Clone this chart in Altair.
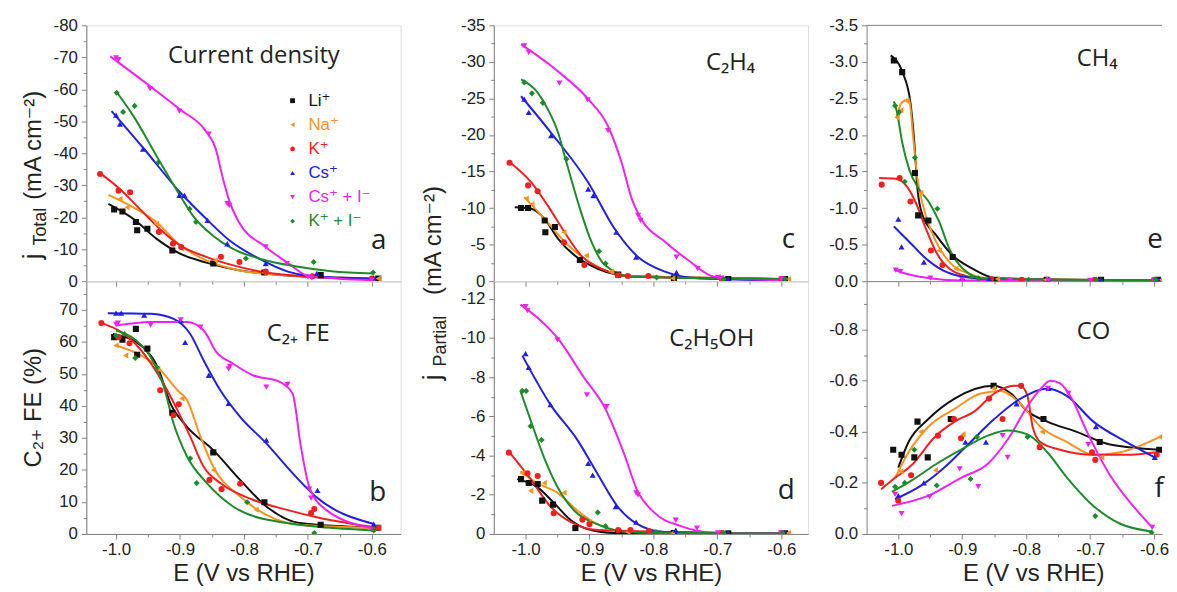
import altair as alt
import pandas as pd

NAMES = ["Li⁺", "Na⁺", "K⁺", "Cs⁺", "Cs⁺ + I⁻", "K⁺ + I⁻"]
KEYS = ["Li", "Na", "K", "Cs", "CsI", "KI"]
COLORS = ["#111111", "#f7931e", "#ee2020", "#2020dd", "#ee22ee", "#1e8a2a"]
SHAPES = ["square", "triangle-left", "circle", "triangle-up", "triangle-down", "diamond"]

# ---------- panel a: total current density (mA cm-2) ----------
A_PTS = {
    "Li": [(-1.003, -22.4), (-0.99, -21.8), (-0.969, -18.5), (-0.967, -15.9), (-0.951, -16.4), (-0.912, -9.6), (-0.848, -5.5), (-0.768, -2.7), (-0.68, -1.9), (-0.59, -0.8)],
    "Na": [(-0.994, -25.7), (-0.983, -23.1), (-0.937, -17.9), (-0.898, -10.2), (-0.845, -6.5), (-0.769, -2.7), (-0.59, -0.8)],
    "K": [(-1.025, -33.5), (-0.996, -28.3), (-0.978, -27.8), (-0.933, -15.4), (-0.911, -11.7), (-0.898, -10.7), (-0.836, -7.6), (-0.807, -6.0), (-0.766, -3.0), (-0.693, -1.5), (-0.6, -0.8)],
    "Cs": [(-1.0, -51.9), (-0.994, -49.1), (-0.958, -41.3), (-0.901, -26.8), (-0.893, -26.8), (-0.857, -19.0), (-0.826, -11.7), (-0.766, -5.5), (-0.686, -2.4), (-0.597, -1.0)],
    "CsI": [(-1.0, -69.8), (-0.996, -69.3), (-0.947, -60.2), (-0.901, -53.2), (-0.855, -46.0), (-0.826, -24.2), (-0.823, -23.7), (-0.766, -10.7), (-0.733, -5.5), (-0.70, -1.3), (-0.694, -1.0), (-0.6, -0.3)],
    "KI": [(-0.999, -58.9), (-0.989, -52.9), (-0.971, -54.8), (-0.934, -37.1), (-0.885, -22.6), (-0.875, -18.5), (-0.797, -7.1), (-0.691, -6.0), (-0.598, -2.7)],
}
A_FIT = {
    "Li": [(-1.012, -24.2), (-0.973, -19.5), (-0.937, -13.3), (-0.90, -8.6), (-0.859, -5.8), (-0.808, -3.4), (-0.741, -1.9), (-0.59, -0.6)],
    "Na": [(-1.012, -27.0), (-0.973, -23.1), (-0.937, -18.5), (-0.90, -11.2), (-0.859, -6.5), (-0.808, -3.4), (-0.741, -1.9), (-0.59, -0.8)],
    "K": [(-1.025, -33.8), (-0.994, -28.8), (-0.963, -22.6), (-0.932, -16.4), (-0.90, -11.2), (-0.859, -7.6), (-0.818, -5.0), (-0.766, -2.7), (-0.689, -1.3), (-0.6, -0.6)],
    "Cs": [(-1.007, -53.2), (-0.958, -41.8), (-0.90, -27.8), (-0.859, -19.5), (-0.823, -12.8), (-0.777, -7.1), (-0.73, -2.9), (-0.70, -1.7), (-0.6, -0.8)],
    "CsI": [(-1.009, -70.3), (-0.947, -61.0), (-0.90, -53.7), (-0.86, -47.0), (-0.844, -41.3), (-0.834, -33.0), (-0.823, -25.2), (-0.808, -18.5), (-0.766, -10.7), (-0.73, -5.5), (-0.70, -1.7), (-0.6, -0.3)],
    "KI": [(-1.0, -59.4), (-0.973, -51.7), (-0.934, -38.2), (-0.90, -26.8), (-0.88, -20.5), (-0.849, -14.3), (-0.818, -10.2), (-0.777, -7.1), (-0.715, -4.5), (-0.663, -3.1), (-0.598, -2.4)],
}

# ---------- panel b: C2+ faradaic efficiency (%) ----------
B_PTS = {
    "Li": [(-1.003, 61.5), (-0.99, 60.7), (-0.969, 64.1), (-0.967, 56.0), (-0.951, 57.9), (-0.912, 37.9), (-0.848, 25.5), (-0.768, 9.9), (-0.68, 2.9), (-0.59, 1.9)],
    "Na": [(-1.0, 58.9), (-0.985, 55.8), (-0.935, 51.6), (-0.897, 42.3), (-0.848, 20.0), (-0.781, 7.6), (-0.59, 1.9)],
    "K": [(-1.023, 65.9), (-0.996, 61.5), (-0.979, 59.6), (-0.931, 44.9), (-0.91, 37.1), (-0.902, 40.5), (-0.854, 16.9), (-0.835, 14.0), (-0.806, 15.7), (-0.695, 6.5), (-0.69, 7.8), (-0.59, 1.9)],
    "Cs": [(-1.0, 69.0), (-0.992, 69.0), (-0.956, 68.4), (-0.899, 66.7), (-0.892, 59.9), (-0.855, 49.6), (-0.824, 40.8), (-0.765, 29.3), (-0.685, 13.6), (-0.597, 3.1)],
    "CsI": [(-1.0, 65.5), (-0.997, 65.9), (-0.946, 65.3), (-0.899, 66.9), (-0.868, 64.6), (-0.824, 51.6), (-0.822, 52.4), (-0.765, 45.9), (-0.732, 46.7), (-0.698, 14.0), (-0.695, 11.2), (-0.6, 1.3)],
    "KI": [(-1.0, 62.0), (-0.987, 62.5), (-0.97, 55.0), (-0.936, 52.0), (-0.884, 23.6), (-0.874, 15.9), (-0.795, 9.9), (-0.69, 0.3), (-0.597, 1.1)],
}
B_FIT = {
    "Li": [(-1.005, 62.5), (-0.961, 58.9), (-0.935, 52.2), (-0.915, 40.8), (-0.889, 33.5), (-0.848, 26.2), (-0.806, 16.9), (-0.765, 8.6), (-0.713, 3.4), (-0.59, 1.9)],
    "Na": [(-1.0, 58.9), (-0.961, 55.8), (-0.935, 52.2), (-0.904, 44.9), (-0.889, 41.8), (-0.868, 30.4), (-0.848, 21.0), (-0.806, 11.7), (-0.765, 6.0), (-0.713, 2.9), (-0.59, 1.9)],
    "K": [(-1.026, 66.2), (-0.972, 59.9), (-0.935, 50.1), (-0.904, 38.7), (-0.884, 30.4), (-0.863, 21.0), (-0.837, 15.9), (-0.786, 10.7), (-0.734, 7.6), (-0.688, 5.3), (-0.59, 1.9)],
    "Cs": [(-1.013, 69.0), (-0.946, 68.8), (-0.91, 67.2), (-0.884, 62.5), (-0.863, 54.2), (-0.837, 44.9), (-0.806, 36.6), (-0.765, 28.3), (-0.724, 19.0), (-0.688, 11.7), (-0.597, 3.1)],
    "CsI": [(-1.0, 65.1), (-0.946, 66.2), (-0.889, 66.2), (-0.863, 63.6), (-0.843, 56.8), (-0.817, 53.2), (-0.786, 49.6), (-0.744, 47.5), (-0.724, 43.9), (-0.711, 27.3), (-0.698, 14.8), (-0.672, 7.6), (-0.6, 1.9)],
    "KI": [(-1.0, 63.6), (-0.972, 61.0), (-0.946, 55.3), (-0.925, 45.9), (-0.91, 34.5), (-0.889, 24.2), (-0.858, 15.9), (-0.817, 8.6), (-0.765, 4.5), (-0.597, 1.1)],
}

# ---------- panel c: C2H4 partial current density ----------
C_PTS = {
    "Li": [(-1.007, -10.0), (-0.996, -10.0), (-0.97, -8.3), (-0.969, -6.7), (-0.954, -7.4), (-0.915, -2.9), (-0.855, -0.9), (-0.768, -0.4), (-0.683, -0.3), (-0.594, -0.3)],
    "Na": [(-0.999, -11.3), (-0.99, -10.5), (-0.94, -6.7), (-0.905, -3.5), (-0.866, -1.3), (-0.77, -0.4), (-0.589, -0.3)],
    "K": [(-1.025, -16.2), (-0.996, -13.1), (-0.981, -12.3), (-0.94, -5.3), (-0.908, -2.2), (-0.855, -0.8), (-0.84, -0.7), (-0.808, -0.7), (-0.693, -0.3), (-0.6, -0.3)],
    "Cs": [(-1.002, -24.9), (-0.995, -23.1), (-0.96, -19.9), (-0.902, -12.6), (-0.894, -11.7), (-0.858, -6.7), (-0.827, -3.3), (-0.764, -1.2), (-0.683, -0.3), (-0.594, -0.3)],
    "CsI": [(-1.002, -32.2), (-0.995, -31.3), (-0.947, -27.1), (-0.903, -24.8), (-0.871, -20.6), (-0.824, -9.0), (-0.82, -8.3), (-0.764, -3.3), (-0.731, -1.7), (-0.699, -0.5), (-0.694, -0.4), (-0.6, -0.3)],
    "KI": [(-1.002, -27.2), (-0.99, -25.7), (-0.973, -24.4), (-0.936, -16.7), (-0.885, -4.1), (-0.875, -2.4), (-0.795, -0.5), (-0.69, -0.3), (-0.594, -0.3)],
}
C_FIT = {
    "Li": [(-1.017, -10.1), (-0.991, -9.9), (-0.97, -8.5), (-0.949, -5.8), (-0.923, -3.5), (-0.887, -1.7), (-0.834, -0.7), (-0.594, -0.3)],
    "Na": [(-1.002, -11.5), (-0.97, -8.5), (-0.939, -5.4), (-0.908, -3.1), (-0.876, -1.5), (-0.834, -0.7), (-0.589, -0.3)],
    "K": [(-1.025, -16.3), (-0.991, -13.5), (-0.965, -10.3), (-0.939, -6.7), (-0.913, -3.5), (-0.876, -1.5), (-0.834, -0.6), (-0.594, -0.3)],
    "Cs": [(-1.007, -25.3), (-0.96, -20.3), (-0.902, -13.5), (-0.861, -7.2), (-0.824, -3.3), (-0.782, -1.3), (-0.73, -0.4), (-0.594, -0.1)],
    "CsI": [(-1.007, -32.4), (-0.949, -28.7), (-0.902, -24.9), (-0.871, -21.2), (-0.85, -16.3), (-0.834, -11.3), (-0.819, -8.5), (-0.782, -5.4), (-0.746, -2.9), (-0.704, -0.6), (-0.6, -0.1)],
    "KI": [(-1.007, -27.6), (-0.981, -25.8), (-0.965, -23.5), (-0.949, -20.3), (-0.939, -17.2), (-0.918, -10.8), (-0.897, -5.4), (-0.876, -2.2), (-0.834, -0.6), (-0.594, -0.3)],
}

# ---------- panel d: C2H5OH partial current density ----------
D_PTS = {
    "Li": [(-1.007, -2.8), (-0.995, -2.6), (-0.981, -2.55), (-0.974, -1.7), (-0.957, -1.5), (-0.922, -0.3), (-0.855, -0.1), (-0.768, -0.05), (-0.683, -0.03), (-0.594, -0.03)],
    "Na": [(-1.005, -3.1), (-0.992, -2.2), (-0.971, -2.6), (-0.94, -2.1), (-0.901, -0.6), (-0.84, -0.1), (-0.77, -0.05), (-0.589, -0.05)],
    "K": [(-1.026, -4.15), (-0.997, -3.1), (-0.981, -2.96), (-0.956, -1.06), (-0.911, -0.73), (-0.9, -0.5), (-0.855, -0.2), (-0.836, -0.2), (-0.807, -0.15), (-0.693, -0.05), (-0.6, -0.05)],
    "Cs": [(-1.0, -9.2), (-0.995, -8.5), (-0.961, -6.6), (-0.902, -3.6), (-0.895, -3.0), (-0.859, -1.4), (-0.827, -0.6), (-0.765, -0.2), (-0.683, -0.05), (-0.594, -0.05)],
    "CsI": [(-1.0, -11.6), (-0.997, -11.4), (-0.95, -9.9), (-0.904, -7.1), (-0.873, -6.5), (-0.827, -2.1), (-0.824, -2.0), (-0.765, -0.7), (-0.732, -0.3), (-0.699, -0.05), (-0.6, -0.05)],
    "KI": [(-1.005, -7.3), (-0.999, -7.3), (-0.992, -5.5), (-0.975, -4.8), (-0.887, -1.1), (-0.875, -0.4), (-0.796, -0.1), (-0.69, -0.05), (-0.598, -0.05)],
}
D_FIT = {
    "Li": [(-1.013, -2.8), (-0.982, -2.4), (-0.956, -1.6), (-0.929, -0.7), (-0.903, -0.25), (-0.861, -0.05), (-0.594, -0.02)],
    "Na": [(-1.008, -3.2), (-0.982, -2.6), (-0.95, -2.1), (-0.919, -1.2), (-0.888, -0.5), (-0.835, -0.1), (-0.589, -0.02)],
    "K": [(-1.026, -4.2), (-0.992, -2.8), (-0.961, -1.4), (-0.929, -0.6), (-0.888, -0.2), (-0.6, -0.02)],
    "Cs": [(-1.005, -9.1), (-0.961, -6.6), (-0.919, -4.8), (-0.888, -3.1), (-0.856, -1.4), (-0.825, -0.5), (-0.783, -0.1), (-0.594, -0.02)],
    "CsI": [(-1.008, -11.7), (-0.95, -10.0), (-0.909, -8.0), (-0.877, -6.5), (-0.846, -4.1), (-0.825, -2.2), (-0.799, -1.1), (-0.757, -0.4), (-0.70, -0.05), (-0.6, -0.02)],
    "KI": [(-1.008, -7.3), (-0.992, -5.8), (-0.971, -3.9), (-0.95, -2.4), (-0.924, -1.2), (-0.888, -0.5), (-0.835, -0.1), (-0.594, -0.02)],
}

# ---------- panel e: CH4 partial current density ----------
E_PTS = {
    "Li": [(-1.007, -3.02), (-0.994, -2.86), (-0.974, -1.48), (-0.969, -0.9), (-0.953, -0.83), (-0.915, -0.33), (-0.848, -0.02), (-0.768, -0.02), (-0.683, -0.02), (-0.594, -0.02)],
    "Na": [(-1.002, -2.24), (-0.996, -2.34), (-0.986, -2.46), (-0.965, -1.21), (-0.936, -0.42), (-0.91, -0.17), (-0.845, -0.03), (-0.77, -0.02), (-0.589, -0.02)],
    "K": [(-1.026, -1.32), (-0.998, -1.41), (-0.981, -1.09), (-0.949, -0.42), (-0.931, -0.22), (-0.855, -0.03), (-0.807, -0.02), (-0.693, -0.02), (-0.6, -0.02)],
    "Cs": [(-1.0, -0.85), (-0.995, -0.47), (-0.96, -0.26), (-0.9, -0.05), (-0.858, -0.03), (-0.765, -0.02), (-0.683, -0.02), (-0.594, -0.02)],
    "CsI": [(-1.004, -0.15), (-0.997, -0.13), (-0.95, -0.04), (-0.9, -0.02), (-0.825, -0.01), (-0.765, -0.01), (-0.7, -0.01), (-0.6, -0.01)],
    "KI": [(-1.005, -2.40), (-0.999, -2.31), (-0.99, -1.36), (-0.974, -1.69), (-0.939, -0.99), (-0.885, -0.06), (-0.875, -0.04), (-0.796, -0.02), (-0.69, -0.02), (-0.598, -0.02)],
}
E_FIT = {
    "Li": [(-1.012, -3.09), (-0.994, -2.87), (-0.981, -2.44), (-0.975, -1.9), (-0.97, -1.26), (-0.962, -0.9), (-0.941, -0.63), (-0.915, -0.35), (-0.884, -0.17), (-0.847, -0.04), (-0.594, -0.01)],
    "Na": [(-1.003, -2.24), (-0.995, -2.44), (-0.983, -2.49), (-0.977, -1.99), (-0.97, -1.4), (-0.96, -0.99), (-0.941, -0.54), (-0.92, -0.26), (-0.889, -0.1), (-0.847, -0.03), (-0.589, -0.01)],
    "K": [(-1.03, -1.41), (-1.004, -1.40), (-0.988, -1.31), (-0.973, -1.08), (-0.957, -0.72), (-0.941, -0.4), (-0.92, -0.17), (-0.889, -0.06), (-0.847, -0.01), (-0.6, -0.01)],
    "Cs": [(-1.007, -0.75), (-0.983, -0.54), (-0.957, -0.31), (-0.931, -0.15), (-0.899, -0.06), (-0.847, -0.02), (-0.594, -0.01)],
    "CsI": [(-1.007, -0.16), (-0.983, -0.09), (-0.952, -0.04), (-0.899, -0.01), (-0.6, -0.01)],
    "KI": [(-1.007, -2.46), (-1.002, -2.31), (-0.994, -1.9), (-0.983, -1.53), (-0.968, -1.26), (-0.952, -1.08), (-0.936, -0.81), (-0.92, -0.44), (-0.899, -0.17), (-0.868, -0.04), (-0.598, -0.01)],
}

# ---------- panel f: CO partial current density ----------
F_PTS = {
    "Li": [(-1.008, -0.33), (-0.995, -0.31), (-0.975, -0.30), (-0.97, -0.44), (-0.954, -0.30), (-0.918, -0.45), (-0.851, -0.58), (-0.773, -0.45), (-0.685, -0.36), (-0.592, -0.33)],
    "Na": [(-0.996, -0.245), (-0.965, -0.40), (-0.942, -0.25), (-0.899, -0.39), (-0.851, -0.57), (-0.775, -0.40), (-0.682, -0.30), (-0.591, -0.38)],
    "K": [(-1.027, -0.20), (-1.0, -0.13), (-0.98, -0.23), (-0.938, -0.385), (-0.913, -0.45), (-0.902, -0.375), (-0.858, -0.53), (-0.837, -0.45), (-0.808, -0.58), (-0.779, -0.34), (-0.697, -0.32), (-0.692, -0.29), (-0.596, -0.31)],
    "Cs": [(-1.0, -0.15), (-0.96, -0.2), (-0.895, -0.36), (-0.863, -0.36), (-0.815, -0.51), (-0.765, -0.57), (-0.691, -0.42), (-0.599, -0.30)],
    "CsI": [(-1.005, -0.155), (-0.995, -0.08), (-0.951, -0.145), (-0.904, -0.255), (-0.875, -0.185), (-0.837, -0.385), (-0.829, -0.30), (-0.766, -0.57), (-0.734, -0.55), (-0.703, -0.35), (-0.603, -0.026)],
    "KI": [(-1.005, -0.185), (-0.99, -0.20), (-0.975, -0.33), (-0.94, -0.19), (-0.887, -0.215), (-0.877, -0.38), (-0.798, -0.38), (-0.692, -0.07), (-0.604, -0.006)],
}
F_FIT = {
    "Li": [(-1.0, -0.26), (-0.984, -0.36), (-0.953, -0.45), (-0.912, -0.53), (-0.851, -0.58), (-0.824, -0.55), (-0.798, -0.48), (-0.767, -0.44), (-0.721, -0.40), (-0.669, -0.35), (-0.591, -0.33)],
    "Na": [(-1.005, -0.22), (-0.984, -0.32), (-0.953, -0.42), (-0.912, -0.49), (-0.871, -0.55), (-0.84, -0.56), (-0.809, -0.51), (-0.778, -0.42), (-0.736, -0.36), (-0.695, -0.31), (-0.653, -0.32), (-0.591, -0.38)],
    "K": [(-1.027, -0.175), (-1.005, -0.22), (-0.979, -0.27), (-0.943, -0.38), (-0.912, -0.44), (-0.881, -0.48), (-0.85, -0.55), (-0.819, -0.58), (-0.809, -0.58), (-0.798, -0.54), (-0.79, -0.42), (-0.778, -0.36), (-0.747, -0.33), (-0.695, -0.31), (-0.643, -0.31), (-0.596, -0.32)],
    "Cs": [(-1.005, -0.136), (-0.964, -0.19), (-0.928, -0.26), (-0.891, -0.35), (-0.85, -0.45), (-0.809, -0.53), (-0.767, -0.57), (-0.736, -0.54), (-0.695, -0.44), (-0.643, -0.36), (-0.599, -0.30)],
    "CsI": [(-1.01, -0.11), (-0.953, -0.15), (-0.902, -0.22), (-0.86, -0.275), (-0.829, -0.37), (-0.798, -0.50), (-0.778, -0.567), (-0.762, -0.60), (-0.747, -0.59), (-0.731, -0.54), (-0.705, -0.40), (-0.669, -0.23), (-0.633, -0.11), (-0.603, -0.026)],
    "KI": [(-1.01, -0.165), (-0.979, -0.21), (-0.943, -0.27), (-0.902, -0.33), (-0.86, -0.385), (-0.829, -0.405), (-0.798, -0.39), (-0.767, -0.32), (-0.736, -0.22), (-0.695, -0.11), (-0.653, -0.04), (-0.604, -0.01)],
}

# axis ticks / labels
X_TICKS = [-1.0, -0.95, -0.9, -0.85, -0.8, -0.75, -0.7, -0.65, -0.6]
YA = [0, -5, -10, -15, -20, -25, -30, -35, -40, -45, -50, -55, -60, -65, -70, -75, -80]
YB = [0, 5, 10, 15, 20, 25, 30, 35, 40, 45, 50, 55, 60, 65, 70, 75]
YC = [0, -2.5, -5, -7.5, -10, -12.5, -15, -17.5, -20, -22.5, -25, -27.5, -30, -32.5, -35]
YD = [0, -1, -2, -3, -4, -5, -6, -7, -8, -9, -10, -11, -12]
YE = [0, -0.25, -0.5, -0.75, -1.0, -1.25, -1.5, -1.75, -2.0, -2.25, -2.5, -2.75, -3.0, -3.25, -3.5]
YF = [0, -0.1, -0.2, -0.3, -0.4, -0.5, -0.6, -0.7, -0.8, -0.9]

AX = "Liberation Sans, Arial, DejaVu Sans, sans-serif"
LB = "Open Sans, DejaVu Sans, sans-serif"
GRAY = "#808080"
INK = "#222222"

W1, W3 = 317, 298
HT, HB = 258, 255
XD1 = [-1.0465, -0.555]
XD2 = [-1.0496, -0.5581]
XD3 = [-1.0496, -1.0496 + W3 / 645.0]


def to_df(d):
    rows = []
    for k, pts in d.items():
        for e, v in pts:
            rows.append({"s": NAMES[KEYS.index(k)], "E": e, "v": v})
    return pd.DataFrame(rows)


def is_major(major):
    return f"abs(round(datum.value/{major})*{major}-datum.value) < 1e-6"


def lab_expr(major, dec):
    return (f"{is_major(major)} ? ((datum.value < -1e-9 ? '-' : '') + "
            f"format(abs(datum.value), '.{dec}f')) : ''")


def tick_size(major):
    return {"condition": {"test": is_major(major), "value": 5}, "value": 3}


def x_axis(labels, title_x=None):
    kw = dict(values=X_TICKS, grid=False, domainColor=GRAY, tickColor=GRAY,
              tickSize=tick_size(0.1), labels=labels)
    if labels:
        kw.update(labelExpr=lab_expr(0.1, 1), labelFont=AX, labelFontSize=17,
                  labelColor=INK, labelPadding=3, title="E (V vs RHE)",
                  titleFont=AX, titleFontSize=24, titleFontWeight="normal",
                  titleColor=INK, titlePadding=4)
        if title_x is not None:
            kw.update(titleX=title_x)
    else:
        kw.update(title=None)
    return alt.Axis(**kw)


def y_axis(vals, major, dec):
    return alt.Axis(values=vals, grid=False, title=None, domainColor=GRAY,
                    tickColor=GRAY, tickSize=tick_size(major),
                    labelExpr=lab_expr(major, dec), labelFont=AX,
                    labelFontSize=17, labelColor=INK, labelPadding=4)


def txt(text, x, y, size, font=LB, color=INK, align="left", angle=0,
        baseline="alphabetic"):
    kw = dict(align=align, baseline=baseline, font=font, fontSize=size, color=color)
    if angle:
        kw["angle"] = angle
    return alt.Chart(pd.DataFrame({"t": [text]})).mark_text(**kw).encode(
        x=alt.value(x), y=alt.value(y), text="t:N")


def spacer(x1, y1, x2, y2):
    return alt.Chart(pd.DataFrame({"t": [0]})).mark_rule(strokeOpacity=0).encode(
        x=alt.value(x1), x2=alt.value(x2), y=alt.value(y1), y2=alt.value(y2))


def panel(pts, fit, xdom, w, h, ydom, yvals, major, dec, xlabels, extras,
          stroke=True, title_x=None):
    x = alt.X("E:Q", scale=alt.Scale(domain=xdom, nice=False, zero=False),
              axis=x_axis(xlabels, title_x))
    y = alt.Y("v:Q", scale=alt.Scale(domain=ydom, nice=False, zero=False),
              axis=y_axis(yvals, major, dec))
    color = alt.Color("s:N", scale=alt.Scale(domain=NAMES, range=COLORS), legend=None)
    shape = alt.Shape("s:N", scale=alt.Scale(domain=NAMES, range=SHAPES), legend=None)
    lines = alt.Chart(to_df(fit)).mark_line(
        interpolate="monotone", strokeWidth=2, clip=True).encode(
        x=x, y=y, color=color, detail="s:N")
    dots = alt.Chart(to_df(pts)).mark_point(
        filled=True, size=38, opacity=1, clip=True).encode(
        x=x, y=y, color=color, shape=shape)
    ch = alt.layer(lines, dots, *extras).properties(width=w, height=h)
    if not stroke:
        ch = ch.properties(view=alt.ViewBackground(strokeOpacity=0))
    return ch


# legend inside panel a
legend_layers = []
for i, (nm, col, shp) in enumerate(zip(NAMES, COLORS, SHAPES)):
    yy = 76 + 24.3 * i
    legend_layers.append(
        alt.Chart(pd.DataFrame({"s": [nm]})).mark_point(
            shape=shp, filled=True, size=24, color=col, opacity=1).encode(
            x=alt.value(208), y=alt.value(yy)))
    legend_layers.append(
        alt.Chart(pd.DataFrame({"s": [nm]})).mark_text(
            align="left", baseline="middle", font=AX, fontSize=17, color=col).encode(
            x=alt.value(224), y=alt.value(yy), text="s:N"))

pa = panel(A_PTS, A_FIT, XD1, W1, HT, [0, -80], YA, 10, 0, False, [
    spacer(-78, -14, -78, 0),
    txt("Current density", 169, 38, 24, align="center"),
    txt("a", 295, 226, 28, align="center"),
    txt("j", -46, 236, 26, font=AX, angle=270),
    txt("Total", -41, 222, 18, font=AX, angle=270),
    txt("(mA cm⁻²)", -46, 176, 24, font=AX, angle=270),
] + legend_layers)

pb = panel(B_PTS, B_FIT, XD1, W1, HB, [0, 79], YB, 10, 0, True, [
    spacer(-78, 0, -78, 10),
    txt("C₂₊ FE", 182, 60, 24),
    txt("b", 294, 222, 28, align="center"),
    txt("C₂₊ FE (%)", -46, 188, 24, font=AX, angle=270),
])

pc = panel(C_PTS, C_FIT, XD2, W1, HT, [0, -35], YC, 5, 0, False, [
    spacer(-82.5, -14, -82.5, 0),
    txt("C₂H₄", 214, 45, 24),
    txt("c", 297, 225, 28, align="center"),
])

pd_ = panel(D_PTS, D_FIT, XD2, W1, HB, [0, -12.9], YD, 2, 0, True, [
    spacer(-82.5, 0, -82.5, 10),
    txt("C₂H₅OH", 177, 65, 24),
    txt("d", 295, 220, 28, align="center"),
    txt("j", -53, 100, 26, font=AX, angle=270),
    txt("Partial", -48, 86, 18, font=AX, angle=270),
    txt("(mA cm⁻²)", -53, 14, 24, font=AX, angle=270),
])

top_rule = alt.Chart(pd.DataFrame({"t": [0]})).mark_rule(color=GRAY, strokeWidth=1).encode(
    x=alt.value(0), x2=alt.value(W3), y=alt.value(0))

pe = panel(E_PTS, E_FIT, XD3, W3, HT, [0, -3.5], YE, 0.5, 1, False, [
    spacer(-47.5, -14, -47.5, 0),
    top_rule,
    txt("CH₄", 212, 41, 24),
    txt("e", 291, 225, 28, align="center"),
], stroke=False)

pf = panel(F_PTS, F_FIT, XD3, W3, HB, [0, -0.99], YF, 0.2, 1, True, [
    spacer(-47.5, 0, -47.5, 10),
    txt("CO", 212, 58, 24),
    txt("f", 295, 218, 28, align="center"),
], stroke=False, title_x=168)

col1 = alt.vconcat(pa, pb, spacing=0, bounds="flush")
col2 = alt.vconcat(pc, pd_, spacing=0, bounds="flush")
col3 = alt.vconcat(pe, pf, spacing=0, bounds="flush")

chart = alt.hconcat(col1, col2, col3, spacing=10, bounds="full", padding=0).configure_view(
    stroke=GRAY, strokeWidth=1).configure(background="white")

chart.save("out.html", embed_options={"renderer": "svg", "actions": False})
